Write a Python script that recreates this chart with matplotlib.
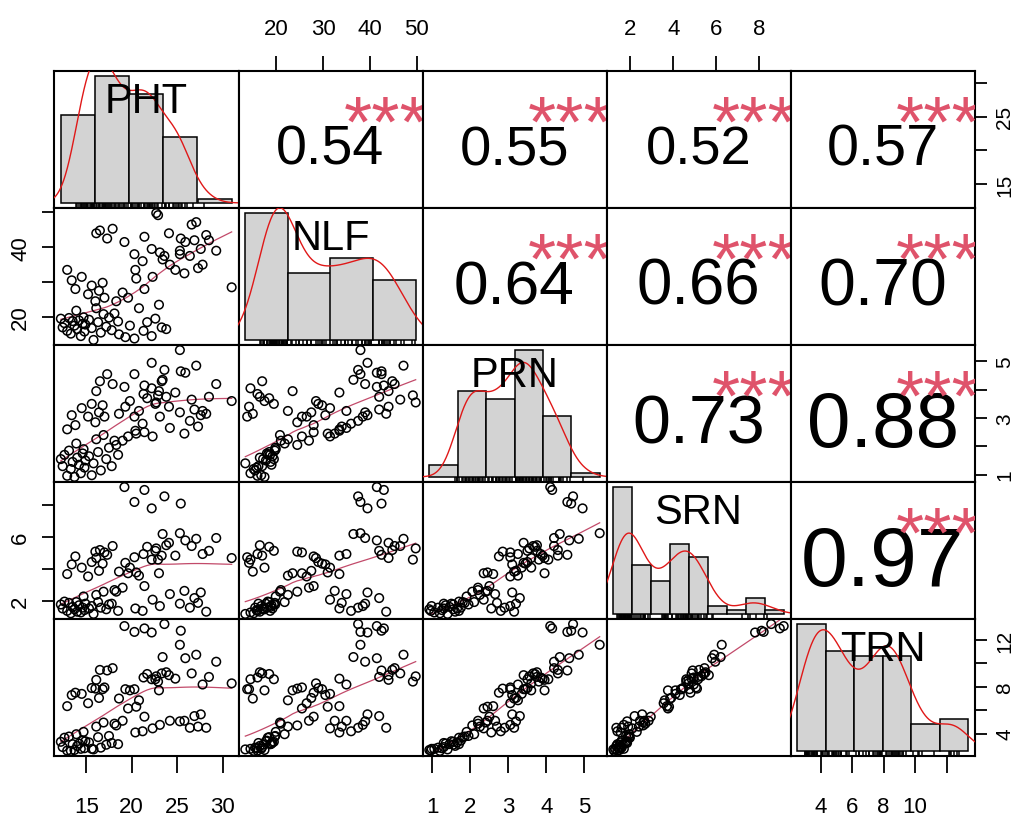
import numpy as np
import matplotlib
matplotlib.use("Agg")
import matplotlib.pyplot as plt
from matplotlib import font_manager

# ---------------- data ----------------
names = ["PHT", "NLF", "PRN", "SRN", "TRN"]

PHT = [12.2, 12.4, 12.6, 12.9, 13.1, 13.3, 13.5, 13.7, 13.9, 14.0, 14.2, 14.4, 14.6, 14.7,
       14.8, 14.9, 15.3, 15.6, 15.8, 16.1, 16.3, 16.6, 16.9, 17.2, 17.5, 17.8, 18.1, 18.5,
       12.9, 13.4, 13.8, 14.5, 15.2, 15.6, 16.0, 16.4, 16.8, 17.0,
       18.6, 19.3, 19.8, 20.3, 20.8, 21.3, 21.7, 22.2, 22.6, 23.0, 23.3, 23.8,
       20.4, 21.2, 22.3, 23.1, 24.2, 25.3, 25.8, 26.4, 26.9, 27.3, 27.6, 28.2,
       18.3, 19.0, 19.6, 20.5, 21.4,
       16.1, 16.5, 17.3, 17.9,
       19.2, 20.3, 21.4, 22.2, 23.6, 25.4,
       22.7, 22.9, 23.4, 24.1, 24.8, 25.3, 25.9, 26.6, 27.1, 27.8, 28.5, 29.3, 31.0]

NLF = [19.5, 17.0, 18.2, 16.0, 19.7, 15.2, 18.8, 17.5, 21.8, 16.5, 19.0, 14.5, 18.0, 19.9,
       15.8, 17.8, 19.2, 16.8, 13.4, 22.5, 18.5, 15.5, 20.8, 17.2, 19.8, 16.2, 21.0, 18.7,
       33.5, 30.5, 28.0, 31.5, 26.5, 29.0, 24.5, 27.5, 29.8, 25.5,
       15.0, 14.2, 17.5, 13.8, 22.5, 16.0, 18.5, 14.5, 19.5, 23.5, 17.0, 16.5,
       33.5, 36.0, 31.5, 38.5, 35.0, 39.0, 32.5, 37.5, 42.0, 34.0, 39.5, 43.5,
       24.5, 27.0, 25.5, 31.0, 28.0,
       44.0, 44.8, 42.5, 45.3,
       41.5, 38.0, 43.0, 39.5, 37.5, 42.5,
       49.8, 49.2, 36.5, 44.0, 33.5, 38.0, 41.5, 46.5, 47.2, 35.0, 42.0, 39.0, 28.5]

PRN = [1.55, 1.30, 1.70, 0.96, 1.85, 1.20, 1.45, 0.92, 2.10, 1.60, 1.35, 1.05, 1.75, 1.90,
       1.25, 1.50, 1.65, 0.98, 1.40, 2.25, 1.80, 1.15, 2.40, 1.55, 1.95, 1.30, 2.20, 1.70,
       2.60, 3.10, 2.75, 3.35, 3.05, 3.50, 2.85, 3.20, 3.45, 3.05,
       3.15, 3.40, 3.60, 3.05, 3.25, 3.85, 3.70, 4.05, 3.50, 3.95, 4.30, 3.75,
       2.55, 2.80, 2.35, 3.05, 2.65, 3.20, 2.45, 2.90, 3.30, 2.70, 3.10, 3.15,
       2.05, 2.20, 2.35, 2.45, 2.50,
       3.95, 4.30, 4.55, 4.20,
       4.10, 4.55, 4.15, 4.95, 4.70, 4.65,
       3.55, 3.80, 4.35, 3.40, 3.90, 5.40, 4.60, 3.65, 4.85, 3.25, 3.75, 4.20, 3.60]

SRN = [1.80, 1.55, 1.98, 1.40, 1.90, 1.25, 1.65, 1.50, 1.95, 1.35, 1.75, 1.30, 1.60, 2.30,
       1.45, 1.85, 1.55, 1.70, 1.21, 2.40, 1.95, 1.60, 2.60, 1.50, 1.80, 1.85, 2.70, 1.40,
       3.70, 4.30, 4.80, 4.10, 3.55, 4.45, 5.10, 3.90, 4.35, 5.05,
       3.85, 4.40, 4.10, 4.75, 3.60, 4.95, 5.40, 4.60, 5.15, 3.75, 4.85, 5.50,
       1.55, 1.40, 2.10, 1.70, 2.45, 1.85, 2.65, 1.60, 2.20, 1.90, 2.55, 1.35,
       2.60, 2.85, 3.75, 3.80, 2.95,
       4.70, 5.20, 4.90, 5.45,
       9.13, 8.20, 8.95, 7.80, 8.55, 8.10,
       5.30, 4.60, 6.20, 5.65, 4.85, 6.25, 5.80, 5.45, 5.90, 4.95, 5.15, 5.95, 4.70]

TRN = [3.30, 2.85, 3.65, 2.55, 3.75, 2.52, 3.10, 2.60, 3.95, 2.95, 3.15, 2.70, 3.40, 4.15,
       2.75, 3.35, 3.25, 2.70, 2.65, 4.60, 3.70, 2.80, 4.95, 3.05, 3.80, 3.20, 4.85, 3.10,
       6.35, 7.30, 7.50, 7.40, 6.60, 7.90, 7.85, 7.05, 7.80, 7.95,
       7.00, 7.80, 7.70, 7.80, 6.85, 8.80, 9.10, 8.65, 8.65, 7.70, 9.15, 9.25,
       4.10, 4.20, 4.45, 4.75, 5.10, 5.05, 5.10, 4.50, 5.50, 4.60, 5.65, 4.50,
       4.70, 5.10, 6.15, 6.30, 5.45,
       8.60, 9.45, 9.40, 9.60,
       13.20, 12.70, 13.00, 12.65, 13.37, 12.80,
       8.90, 8.45, 10.55, 9.00, 8.70, 11.60, 10.45, 9.15, 10.75, 8.20, 8.85, 10.15, 8.30]

# correlation labels shown in the upper panels (row, col) -> r
cor_pairs = [(0, 1), (0, 2), (0, 3), (0, 4), (1, 2), (1, 3), (1, 4), (2, 3), (2, 4), (3, 4)]
cor_r = [0.54, 0.55, 0.52, 0.57, 0.64, 0.66, 0.70, 0.73, 0.88, 0.97]
cor_signif = ["***"] * 10

# histogram breaks
hist_breaks = [
    [10, 15, 20, 25, 30, 35],
    [10, 20, 30, 40, 50],
    [0, 1, 2, 3, 4, 5, 6],
    [1, 2, 3, 4, 5, 6, 7, 8, 9, 10],
    [2, 4, 6, 8, 10, 12, 14],
]

# axis ticks and labels
top_ticks = {1: ([20, 30, 40, 50], ["20", "30", "40", "50"]),
             3: ([2, 4, 6, 8], ["2", "4", "6", "8"])}
bottom_ticks = {0: ([15, 20, 25, 30], ["15", "20", "25", "30"]),
                2: ([1, 2, 3, 4, 5], ["1", "2", "3", "4", "5"]),
                4: ([4, 6, 8, 10, 12], ["4", "6", "8", "10", ""])}
left_ticks = {1: ([20, 30, 40, 50], ["20", "", "40", ""]),
              3: ([2, 4, 6, 8], ["2", "", "6", ""])}
right_ticks = {0: ([15, 20, 25, 30], ["15", "", "25", ""]),
               2: ([1, 2, 3, 4, 5], ["1", "", "3", "", "5"]),
               4: ([4, 6, 8, 10, 12], ["4", "", "8", "", "12"])}

# ---------------- helpers ----------------
def pick_font(cands):
    for f in cands:
        try:
            font_manager.findfont(f, fallback_to_default=False)
            return f
        except Exception:
            pass
    return "DejaVu Sans"

FONT = pick_font(["Liberation Sans", "Arimo", "DejaVu Sans"])
plt.rcParams["font.family"] = [FONT, "DejaVu Sans"]


def padded(v):
    lo, hi = float(np.min(v)), float(np.max(v))
    d = 0.04 * (hi - lo)
    return lo - d, hi + d


def lowess(x, y, f=2.0 / 3.0, iters=3):
    x = np.asarray(x, float)
    y = np.asarray(y, float)
    o = np.argsort(x, kind="mergesort")
    x, y = x[o], y[o]
    n = len(x)
    ns = max(2, min(n, int(f * n + 1e-7)))
    rw = np.ones(n)
    fit = np.zeros(n)
    for it in range(iters + 1):
        for i in range(n):
            d = np.abs(x - x[i])
            h = max(np.sort(d)[ns - 1], 1e-12)
            u = np.clip(d / h, 0, 1)
            w = (1 - u ** 3) ** 3 * rw
            w[d > h] = 0
            sw = w.sum()
            xm = (w * x).sum() / sw
            ym = (w * y).sum() / sw
            vx = (w * (x - xm) ** 2).sum()
            b = (w * (x - xm) * (y - ym)).sum() / vx if vx > 1e-12 else 0.0
            fit[i] = ym + b * (x[i] - xm)
        res = y - fit
        s = np.median(np.abs(res))
        if s == 0:
            break
        u = np.clip(res / (6 * s), -1, 1)
        rw = (1 - u ** 2) ** 2
    return x, fit


def kde(x):
    x = np.asarray(x, float)
    sd = np.std(x, ddof=1)
    q75, q25 = np.percentile(x, [75, 25])
    lo = min(sd, (q75 - q25) / 1.34)
    if lo <= 0:
        lo = sd
    bw = 0.9 * lo * len(x) ** -0.2
    g = np.linspace(x.min() - 3 * bw, x.max() + 3 * bw, 512)
    dens = np.exp(-0.5 * ((g[:, None] - x[None, :]) / bw) ** 2).sum(1) / (len(x) * bw * np.sqrt(2 * np.pi))
    return g, dens


def hist_counts(x, br):
    x = np.asarray(x, float)
    br = np.asarray(br, float)
    idx = np.searchsorted(br, x, side="left") - 1  # right-closed bins (a, b]
    idx = np.clip(idx, 0, len(br) - 2)
    return np.bincount(idx, minlength=len(br) - 1)


data = [np.array(PHT), np.array(NLF), np.array(PRN), np.array(SRN), np.array(TRN)]
n = len(data)

# ---------------- layout ----------------
W, H = 1018, 820
fig = plt.figure(figsize=(W / 100, H / 100), dpi=100)
fig.patch.set_facecolor("white")
x_edges = [54, 238.5, 422.5, 606.5, 790.5, 975]
y_edges = [72, 209, 346, 483, 620, 757]

TICK_FS = 16
COR_BASE_PT = 62
STAR_PT = 52
LAB_PT = 30
STAR_COL = "#DF536B"
SMOOTH_COL = "#C24A6A"

axes = {}
for i in range(n):
    for j in range(n):
        l = x_edges[j] / W
        r = x_edges[j + 1] / W
        t = 1 - y_edges[i] / H
        b = 1 - y_edges[i + 1] / H
        ax = fig.add_axes([l, b, r - l, t - b])
        axes[(i, j)] = ax
        ax.set_xlim(*padded(data[j]))
        ax.set_ylim(*padded(data[i]))
        for s in ax.spines.values():
            s.set_linewidth(1.5)
            s.set_color("black")
        ax.tick_params(which="both", left=False, right=False, top=False, bottom=False,
                       labelleft=False, labelright=False, labeltop=False, labelbottom=False)
        ax.set_facecolor("white")
        panel_h = y_edges[i + 1] - y_edges[i]

        if i > j:
            ax.scatter(data[j], data[i], s=38, facecolors="none", edgecolors="black",
                       linewidths=1.1, zorder=3)
            lx, ly = lowess(data[j], data[i])
            ax.plot(lx, ly, color=SMOOTH_COL, lw=0.9, zorder=2)
        elif i < j:
            k = cor_pairs.index((i, j))
            rv = cor_r[k]
            fs = COR_BASE_PT * (abs(rv) + 0.3) / 1.3
            em = fs / 72 * 100
            ax.text(0.5, 0.467 - 0.358 * em / panel_h, f"{rv:.2f}", transform=ax.transAxes,
                    ha="center", va="baseline", fontsize=fs, color="black")
            sem = STAR_PT / 72 * 100
            ax.text(0.8, 0.765 - 0.58 * sem / panel_h, cor_signif[k], transform=ax.transAxes,
                    ha="center", va="baseline", fontsize=STAR_PT, color=STAR_COL,
                    clip_on=True)
        else:
            br = np.array(hist_breaks[i], float)
            cnt = hist_counts(data[i], br)
            dens = cnt / (cnt.sum() * np.diff(br))
            hax = ax.inset_axes([0, 0, 1, 1])
            hax.set_axis_off()
            hax.patch.set_alpha(0)
            d = 0.04 * (br[-1] - br[0])
            hax.set_xlim(br[0] - d, br[-1] + d)
            hax.set_ylim(-0.04 * dens.max(), 1.04 * dens.max())
            hax.bar(br[:-1], dens, width=np.diff(br), align="edge", color="#D3D3D3",
                    edgecolor="black", linewidth=1.1, zorder=2)
            g, dd = kde(data[i])
            hax.plot(g, dd, color="#E01818", lw=1.0, zorder=3)
            hax.vlines(data[i], 0, 0.035, transform=hax.get_xaxis_transform(),
                       color="black", lw=1.1, zorder=3)
            lem = LAB_PT / 72 * 100
            hax.text(0.5, 0.81 - 0.358 * lem / panel_h, names[i], transform=hax.transAxes,
                     ha="center", va="baseline", fontsize=LAB_PT, color="black", zorder=6)

# edge axes
for j, (tv, tl) in top_ticks.items():
    ax = axes[(0, j)]
    ax.set_xticks(tv)
    ax.set_xticklabels(tl)
    ax.tick_params(axis="x", top=True, labeltop=True, length=11, width=1.3,
                   pad=12, labelsize=TICK_FS)
for j, (tv, tl) in bottom_ticks.items():
    ax = axes[(n - 1, j)]
    ax.set_xticks(tv)
    ax.set_xticklabels(tl)
    ax.tick_params(axis="x", bottom=True, labelbottom=True, length=12, width=1.3,
                   pad=17, labelsize=TICK_FS)
for i, (tv, tl) in left_ticks.items():
    ax = axes[(i, 0)]
    ax.set_yticks(tv)
    ax.set_yticklabels(tl)
    ax.tick_params(axis="y", left=True, labelleft=True, length=8.5, width=1.3,
                   pad=8, labelsize=TICK_FS, labelrotation=90)
    for lab in ax.get_yticklabels():
        lab.set_va("center")
for i, (tv, tl) in right_ticks.items():
    ax = axes[(i, n - 1)]
    ax.set_yticks(tv)
    ax.set_yticklabels(tl)
    ax.tick_params(axis="y", right=True, labelright=True, length=8.5, width=1.3,
                   pad=6, labelsize=15, labelrotation=90)
    for lab in ax.get_yticklabels():
        lab.set_va("center")

fig.savefig("out.png", dpi=100, facecolor="white")
